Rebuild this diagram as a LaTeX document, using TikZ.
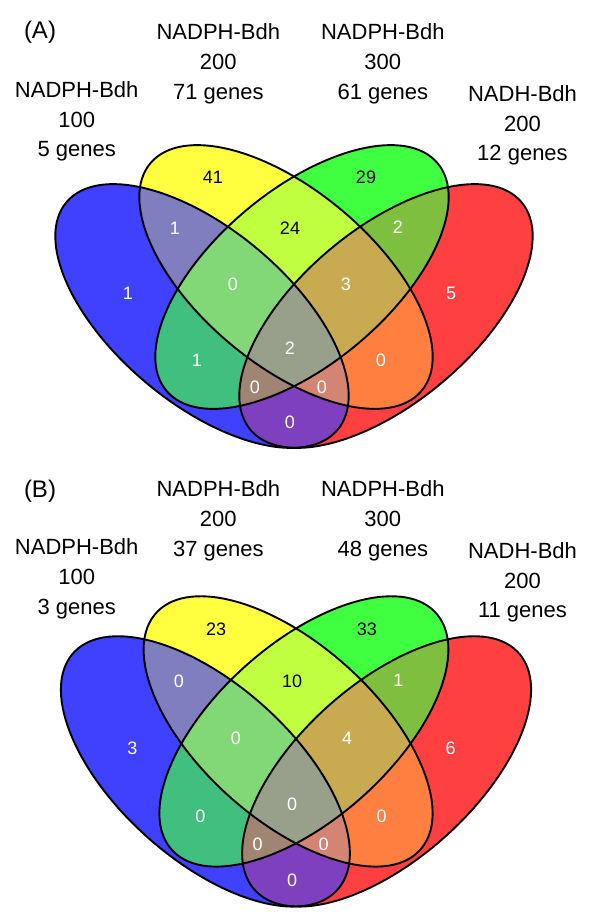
\documentclass[tikz,border=0pt]{standalone}
\usepackage{fontspec}
\setmainfont{Liberation Sans}
\definecolor{cB}{HTML}{4040FF}
\definecolor{cY}{HTML}{FFFF40}
\definecolor{cG}{HTML}{40FF40}
\definecolor{cR}{HTML}{FF4040}
\definecolor{cBY}{HTML}{7F7FBF}
\definecolor{cYG}{HTML}{BFFF40}
\definecolor{cGR}{HTML}{7FBF40}
\definecolor{cBG}{HTML}{40BF7F}
\definecolor{cYR}{HTML}{FF7F40}
\definecolor{cBR}{HTML}{7F40BF}
\definecolor{cBYG}{HTML}{82D876}
\definecolor{cYGR}{HTML}{C8AA50}
\definecolor{cBGR}{HTML}{A08572}
\definecolor{cBYR}{HTML}{D48472}
\definecolor{cBYGR}{HTML}{98A08C}
\tikzset{
  eB/.style={rotate around={-40:(-92,-16)}},
  eY/.style={rotate around={-40:(-8,23)}},
  eG/.style={rotate around={40:(8,23)}},
  eR/.style={rotate around={40:(92,-16)}},
  outl/.style={draw=black,line width=1.9pt},
  lab/.style={font=\fontsize{22}{26}\selectfont,anchor=base,inner sep=0pt},
  num/.style={font=\fontsize{18}{21}\selectfont,text=white,inner sep=0pt},
  numk/.style={num,text=black},
  tag/.style={font=\fontsize{24}{28}\selectfont,anchor=base,inner sep=0pt}
}
\def\pB{(-92,-16) ellipse [x radius=177, y radius=87]}
\def\pY{(-8,23) ellipse [x radius=177, y radius=87]}
\def\pG{(8,23) ellipse [x radius=177, y radius=87]}
\def\pR{(92,-16) ellipse [x radius=177, y radius=87]}
\newcommand\vennshapes{%
  \fill[cB,eB]\pB; \fill[cY,eY]\pY; \fill[cG,eG]\pG; \fill[cR,eR]\pR;
  \begin{scope}\clip[eB]\pB; \fill[cBY,eY]\pY; \end{scope}
  \begin{scope}\clip[eB]\pB; \fill[cBG,eG]\pG; \end{scope}
  \begin{scope}\clip[eB]\pB; \fill[cBR,eR]\pR; \end{scope}
  \begin{scope}\clip[eY]\pY; \fill[cYG,eG]\pG; \end{scope}
  \begin{scope}\clip[eY]\pY; \fill[cYR,eR]\pR; \end{scope}
  \begin{scope}\clip[eG]\pG; \fill[cGR,eR]\pR; \end{scope}
  \begin{scope}\clip[eB]\pB; \clip[eY]\pY; \fill[cBYG,eG]\pG; \end{scope}
  \begin{scope}\clip[eB]\pB; \clip[eY]\pY; \fill[cBYR,eR]\pR; \end{scope}
  \begin{scope}\clip[eB]\pB; \clip[eG]\pG; \fill[cBGR,eR]\pR; \end{scope}
  \begin{scope}\clip[eY]\pY; \clip[eG]\pG; \fill[cYGR,eR]\pR; \end{scope}
  \begin{scope}\clip[eB]\pB; \clip[eY]\pY; \clip[eG]\pG; \fill[cBYGR,eR]\pR; \end{scope}
  \draw[outl,eB]\pB; \draw[outl,eY]\pY; \draw[outl,eG]\pG; \draw[outl,eR]\pR;
}
\begin{document}
\begin{tikzpicture}[x=1pt,y=1pt]
\useasboundingbox (0,0) rectangle (600,-918);
% ---------- Panel A ----------
\begin{scope}[shift={(294,-300)}]
  \vennshapes
  \node[num]  (aB)    at (-166,7)   {1};
  \node[numk] (aY)    at (-81,123)  {41};
  \node[numk] (aG)    at (72,123)   {29};
  \node[num]  (aR)    at (157,7)    {5};
  \node[num]  (aBY)   at (-119,72)  {1};
  \node[numk] (aYG)   at (-4,72)    {24};
  \node[num]  (aGR)   at (104,73)   {2};
  \node[num]  (aBYG)  at (-61,16)   {0};
  \node[num]  (aYGR)  at (52,16)    {3};
  \node[num]  (aBG)   at (-97,-60)  {1};
  \node[num]  (aYR)   at (87,-60)   {0};
  \node[num]  (aBYGR) at (-4,-48)   {2};
  \node[num]  (aBGR)  at (-39,-87)  {0};
  \node[num]  (aBYR)  at (28,-87)   {0};
  \node[num]  (aBR)   at (-4,-122)  {0};
\end{scope}
\node[tag] (tagA) at (40,-38) {(A)};
\node[lab] (a1a) at (218.3,-39.3) {NADPH-Bdh};
\node[lab] (a1b) at (218.3,-69.3) {200};
\node[lab] (a1c) at (218.3,-99.3) {71 genes};
\node[lab] (a2a) at (382.8,-39.3) {NADPH-Bdh};
\node[lab] (a2b) at (382.8,-69.3) {300};
\node[lab] (a2c) at (382.8,-99.3) {61 genes};
\node[lab] (a0a) at (76.7,-97.3) {NADPH-Bdh};
\node[lab] (a0b) at (76.7,-127.3) {100};
\node[lab] (a0c) at (76.7,-156.7) {5 genes};
\node[lab] (a3a) at (522.5,-101) {NADH-Bdh};
\node[lab] (a3b) at (522.5,-131) {200};
\node[lab] (a3c) at (522.5,-160) {12 genes};
% ---------- Panel B ----------
\begin{scope}[shift={(296,-755)},xscale=0.985,yscale=1.025]
  \vennshapes
  \node[num]  (bB)    at (-166,7)   {3};
  \node[numk] (bY)    at (-81,123)  {23};
  \node[numk] (bG)    at (72,123)   {33};
  \node[num]  (bR)    at (157,7)    {6};
  \node[num]  (bBY)   at (-119,72)  {0};
  \node[numk] (bYG)   at (-4,72)    {10};
  \node[num]  (bGR)   at (104,73)   {1};
  \node[num]  (bBYG)  at (-61,16)   {0};
  \node[num]  (bYGR)  at (52,16)    {4};
  \node[num]  (bBG)   at (-97,-60)  {0};
  \node[num]  (bYR)   at (87,-60)   {0};
  \node[num]  (bBYGR) at (-4,-48)   {0};
  \node[num]  (bBGR)  at (-39,-87)  {0};
  \node[num]  (bBYR)  at (28,-87)   {0};
  \node[num]  (bBR)   at (-4,-122)  {0};
\end{scope}
\node[tag] (tagB) at (40,-497) {(B)};
\node[lab] (b1a) at (218.3,-496.8) {NADPH-Bdh};
\node[lab] (b1b) at (218.3,-526.8) {200};
\node[lab] (b1c) at (218.3,-556.8) {37 genes};
\node[lab] (b2a) at (382.8,-496.8) {NADPH-Bdh};
\node[lab] (b2b) at (382.8,-526.8) {300};
\node[lab] (b2c) at (382.8,-556.8) {48 genes};
\node[lab] (b0a) at (76.7,-554.8) {NADPH-Bdh};
\node[lab] (b0b) at (76.7,-584.8) {100};
\node[lab] (b0c) at (76.7,-614.2) {3 genes};
\node[lab] (b3a) at (522.5,-558.5) {NADH-Bdh};
\node[lab] (b3b) at (522.5,-588.5) {200};
\node[lab] (b3c) at (522.5,-617.5) {11 genes};
\end{tikzpicture}
\end{document}
